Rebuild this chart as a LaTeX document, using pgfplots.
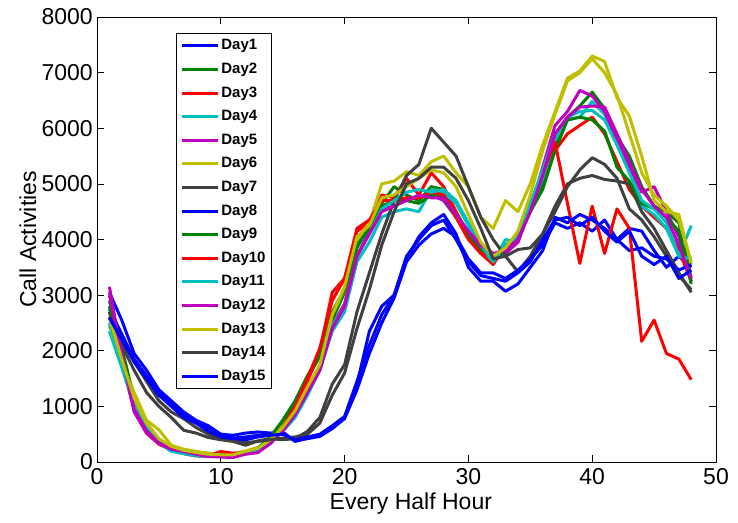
\documentclass[border=0pt]{standalone}
\usepackage{fontspec}
\setmainfont{Liberation Sans}
\usepackage{pgfplots}
\usepackage{pgfplotstable}
\pgfplotsset{compat=1.18}
\definecolor{mblue}{rgb}{0,0,1}
\definecolor{mgreen}{rgb}{0,0.5,0}
\definecolor{mred}{rgb}{1,0,0}
\definecolor{mcyan}{rgb}{0,0.75,0.75}
\definecolor{mmag}{rgb}{0.75,0,0.75}
\definecolor{myel}{rgb}{0.75,0.75,0}
\definecolor{mgray}{rgb}{0.25,0.25,0.25}

\pgfplotstableread{
x d1 d2 d3 d4 d5 d6 d7 d8 d9 d10 d11 d12 d13 d14 d15
1 3050 2900 2700 2350 3150 2450 2700 2750 2800 2600 2500 3000 2600 2600 2600
2 2550 2050 1800 1700 1900 1800 2100 2300 1950 1800 1750 1950 1850 2200 2200
3 1950 1150 950 1000 900 1250 1650 1850 1100 1000 1050 950 1150 1800 1800
4 1650 700 520 600 520 750 1250 1550 650 550 620 560 700 1450 1500
5 1300 400 320 350 330 580 1000 1250 400 350 360 340 420 1100 1200
6 1100 240 220 190 220 300 800 1050 250 230 200 230 280 900 1000
7 900 180 150 150 180 230 570 850 190 170 160 190 210 780 800
8 750 140 110 110 130 190 520 700 150 120 120 140 170 620 700
9 650 110 100 100 100 160 440 600 120 110 110 100 140 500 550
10 500 120 170 110 90 140 400 500 130 190 120 100 130 420 450
11 480 100 160 90 80 150 370 430 120 150 100 90 130 380 420
12 520 170 180 150 150 200 300 450 180 170 160 140 190 350 400
13 540 240 220 200 180 260 380 480 250 210 210 170 250 370 450
14 520 420 380 350 360 420 420 500 450 370 370 330 400 400 480
15 540 700 600 550 580 650 400 520 750 620 580 560 620 430 500
16 370 1050 950 800 880 950 420 380 1100 1000 850 850 920 450 400
17 430 1500 1450 1200 1300 1300 550 420 1550 1500 1250 1250 1350 500 450
18 480 1900 2000 1650 1700 1700 800 460 1950 2050 1700 1650 1750 700 500
19 620 2550 3050 2350 2450 2650 1400 600 2700 2900 2450 2400 2650 1200 650
20 800 3050 3300 2700 2850 3100 1750 780 3100 3300 2800 2800 3150 1600 820
21 1400 3850 4150 3600 3700 4000 2700 1300 3900 4200 3700 3700 4050 2400 1450
22 2350 4250 4300 3950 4150 4300 3400 1950 4200 4350 4100 4100 4250 3100 2100
23 2800 4650 4800 4400 4550 5000 4100 2500 4600 4700 4550 4500 4750 3900 2650
24 3000 4950 4750 4500 4600 5050 4700 2950 4700 4700 4700 4600 4800 4500 3000
25 3650 4800 5100 4550 4750 5220 5150 3600 4700 4750 4850 4700 4950 5000 3700
26 4050 4700 4800 4500 4750 5150 5350 3900 4650 4750 4900 4800 5100 5100 4000
27 4300 4950 5200 4900 4800 5400 6000 4100 4800 4850 4850 4750 5250 5300 4250
28 4450 4900 4950 4850 4700 5500 5750 4200 4750 4800 4900 4750 5200 5300 4350
29 4100 4500 4500 4650 4400 5200 5500 4050 4400 4400 4700 4450 4950 5100 4000
30 3500 4100 4050 4250 4100 4950 4950 3650 4050 4000 4300 4150 4450 4700 3600
31 3250 3850 3750 3850 3850 4400 4400 3400 3800 3750 3900 3900 3950 4200 3350
32 3250 3700 3550 3600 3700 4200 4000 3400 3650 3700 3600 3750 3700 3650 3300
33 3070 3850 3900 4000 3750 4700 3700 3300 3800 3850 3900 3800 3850 3700 3250
34 3200 4050 4050 3950 3950 4500 3420 3450 4000 4000 4050 4000 4150 3820 3400
35 3500 4500 4600 4550 4550 5000 3700 3650 4500 4600 4650 4500 4800 3850 3600
36 3800 5000 5200 5100 5300 5700 4100 3900 4900 5200 5250 5150 5600 4100 4000
37 4400 5700 5600 5800 6050 6300 4600 4300 5600 5750 5900 5900 6250 4500 4350
38 4300 6200 5900 6150 6300 6900 5000 4200 6150 4650 6200 6200 6850 4950 4400
39 4450 6400 6050 6200 6680 7030 5100 4300 6200 3570 6300 6380 7000 5250 4250
40 4350 6650 6200 6480 6580 7300 5150 4150 6150 4600 6320 6400 7250 5470 4400
41 4200 6350 5900 6250 6300 7200 5080 4350 5950 3750 6150 6380 7000 5350 4150
42 4000 5850 5400 5800 5800 6550 5050 4000 5300 4550 5700 5900 6600 5100 3950
43 4200 5500 4900 5250 5300 6220 5000 3800 5050 4200 5200 5400 5900 4550 4150
44 4150 4950 4600 4600 4850 5500 4500 3850 4650 2170 4700 4900 5200 4350 3700
45 3800 4600 4400 4450 4950 4700 4200 3700 4550 2550 4550 4600 4800 4050 3550
46 3500 4500 4200 4200 4500 4500 3800 3650 4400 1950 4300 4400 4600 3700 3700
47 3700 4300 3800 3700 4050 4450 3400 3450 4150 1850 3700 3900 4350 3350 3300
48 3500 3300 3250 4250 3250 3550 3050 3550 3200 1480 3650 3300 3600 3100 3450
}\data

\begin{document}
\begin{tikzpicture}
\useasboundingbox (-97pt,-60pt) rectangle (641pt,462pt);
\begin{axis}[
  at={(0pt,0pt)}, anchor=south west,
  scale only axis, width=619pt, height=445pt,
  xmin=0, xmax=50, ymin=0, ymax=8000,
  xtick={0,10,...,50}, ytick={0,1000,...,8000},
  tick align=inside, major tick length=7pt,
  tick style={black, line width=0.7pt},
  axis line style={black, line width=0.8pt},
  /pgf/number format/assume math mode=true,
  /pgf/number format/set thousands separator={},
  scaled y ticks=false,
  ticklabel style={font=\fontsize{23}{23}\selectfont},
  yticklabel style={inner xsep=4pt},
  xticklabel style={inner ysep=2pt, yshift=-4pt},
  label style={font=\fontsize{23}{23}\selectfont},
  xlabel={Every Half Hour}, ylabel={Call Activities},
  xlabel style={at={(axis description cs:0.507,-0.093)}, anchor=center, inner sep=1pt},
  ylabel style={at={(axis description cs:-0.1115,0.5)}, anchor=center},
  legend cell align=left,
  legend style={at={(axis description cs:0.1276,0.964)}, anchor=north west,
    draw=black, line width=0.8pt, fill=white,
    font=\fontsize{15}{15}\selectfont\bfseries,
    inner xsep=4pt, inner ysep=3.5pt,
    nodes={inner sep=2pt, text height=11pt, text depth=3pt},
    row sep=5.6pt},
  legend image code/.code={\draw[#1] (0pt,0pt) -- (36pt,0pt);},
  every axis plot/.append style={line width=3pt, line join=round},
]
\addplot[mblue] table[x=x,y=d1]{\data}; \addlegendentry{Day1}
\addplot[mgreen] table[x=x,y=d2]{\data}; \addlegendentry{Day2}
\addplot[mred] table[x=x,y=d3]{\data}; \addlegendentry{Day3}
\addplot[mcyan] table[x=x,y=d4]{\data}; \addlegendentry{Day4}
\addplot[mmag] table[x=x,y=d5]{\data}; \addlegendentry{Day5}
\addplot[myel] table[x=x,y=d6]{\data}; \addlegendentry{Day6}
\addplot[mgray] table[x=x,y=d7]{\data}; \addlegendentry{Day7}
\addplot[mblue] table[x=x,y=d8]{\data}; \addlegendentry{Day8}
\addplot[mgreen] table[x=x,y=d9]{\data}; \addlegendentry{Day9}
\addplot[mred] table[x=x,y=d10]{\data}; \addlegendentry{Day10}
\addplot[mcyan] table[x=x,y=d11]{\data}; \addlegendentry{Day11}
\addplot[mmag] table[x=x,y=d12]{\data}; \addlegendentry{Day12}
\addplot[myel] table[x=x,y=d13]{\data}; \addlegendentry{Day13}
\addplot[mgray] table[x=x,y=d14]{\data}; \addlegendentry{Day14}
\addplot[mblue] table[x=x,y=d15]{\data}; \addlegendentry{Day15}
\end{axis}
\end{tikzpicture}
\end{document}
